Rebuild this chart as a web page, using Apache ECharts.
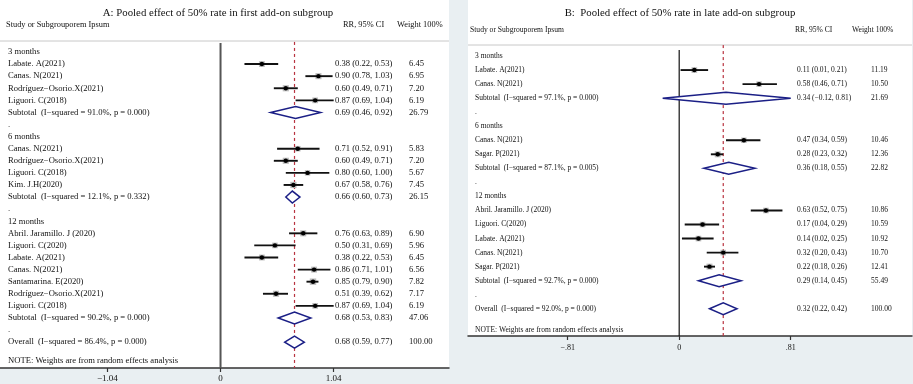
<!DOCTYPE html>
<html>
<head>
<meta charset="utf-8">
<script src="https://cdn.jsdelivr.net/npm/echarts@6/dist/echarts.min.js"></script>
<style>
  html, body { margin: 0; padding: 0; background: #e9eff2; }
  #chart { width: 913px; height: 384px; }
</style>
</head>
<body>
<div id="chart"></div>
<script>
const groups = ['3 months', '6 months', '12 months'];

// A: first add-on subgroup
const aGroup = [0, 0, 0, 0, 1, 1, 1, 1, 2, 2, 2, 2, 2, 2, 2];
const aStudy = [
  'Labate. A(2021)', 'Canas. N(2021)', 'Rodríguez−Osorio.X(2021)', 'Liguori. C(2018)',
  'Canas. N(2021)', 'Rodríguez−Osorio.X(2021)', 'Liguori. C(2018)', 'Kim. J.H(2020)',
  'Abril. Jaramillo. J (2020)', 'Liguori. C(2020)', 'Labate. A(2021)', 'Canas. N(2021)',
  'Santamarina. E(2020)', 'Rodríguez−Osorio.X(2021)', 'Liguori. C(2018)'
];
const aRR = [0.38, 0.90, 0.60, 0.87, 0.71, 0.60, 0.80, 0.67, 0.76, 0.50, 0.38, 0.86, 0.85, 0.51, 0.87];
const aLow = [0.22, 0.78, 0.49, 0.69, 0.52, 0.49, 0.60, 0.58, 0.63, 0.31, 0.22, 0.71, 0.79, 0.39, 0.69];
const aHigh = [0.53, 1.03, 0.71, 1.04, 0.91, 0.71, 1.00, 0.76, 0.89, 0.69, 0.53, 1.01, 0.90, 0.62, 1.04];
const aWeight = [6.45, 6.95, 7.20, 6.19, 5.83, 7.20, 5.67, 7.45, 6.90, 5.96, 6.45, 6.56, 7.82, 7.17, 6.19];
const aSubRR = [0.69, 0.66, 0.68];
const aSubLow = [0.46, 0.60, 0.53];
const aSubHigh = [0.92, 0.73, 0.83];
const aSubWeight = [26.79, 26.15, 47.06];
const aSubI2 = ['91.0', '12.1', '90.2'];
const aSubP = ['0.000', '0.332', '0.000'];
const aOverall = [0.68, 0.59, 0.77]; // rr, low, high
const aOverallI2 = ['86.4', '0.000'];
const aTicks = [-1.04, 0, 1.04];
const aTickLabels = ['−1.04', '0', '1.04'];

// B: late add-on subgroup
const bGroup = [0, 0, 1, 1, 2, 2, 2, 2, 2];
const bStudy = [
  'Labate. A(2021)', 'Canas. N(2021)',
  'Canas. N(2021)', 'Sagar. P(2021)',
  'Abril. Jaramillo. J (2020)', 'Liguori. C(2020)', 'Labate. A(2021)', 'Canas. N(2021)', 'Sagar. P(2021)'
];
const bRR = [0.11, 0.58, 0.47, 0.28, 0.63, 0.17, 0.14, 0.32, 0.22];
const bLow = [0.01, 0.46, 0.34, 0.23, 0.52, 0.04, 0.02, 0.20, 0.18];
const bHigh = [0.21, 0.71, 0.59, 0.32, 0.75, 0.29, 0.25, 0.43, 0.26];
const bWeight = [11.19, 10.50, 10.46, 12.36, 10.86, 10.59, 10.92, 10.70, 12.41];
const bSubRR = [0.34, 0.36, 0.29];
const bSubLow = [-0.12, 0.18, 0.14];
const bSubHigh = [0.81, 0.55, 0.45];
const bSubWeight = [21.69, 22.82, 55.49];
const bSubI2 = ['97.1', '87.1', '92.7'];
const bSubP = ['0.000', '0.005', '0.000'];
const bOverall = [0.32, 0.22, 0.42];
const bOverallI2 = ['92.0', '0.000'];
const bTicks = [-0.81, 0, 0.81];
const bTickLabels = ['−.81', '0', '.81'];

const FONT = '"Liberation Serif", "Times New Roman", serif';

const num = v => (v < 0 ? '−' + Math.abs(v).toFixed(2) : v.toFixed(2));
const ciText = (r, l, h) => num(r) + ' (' + num(l) + ', ' + num(h) + ')';

function buildPanel(p) {
  const studies = [];
  const diamonds = [];
  const texts = [];
  let row = 0;
  groups.forEach((g, gi) => {
    texts.push({ row, label: g });
    row++;
    p.group.forEach((sg, i) => {
      if (sg !== gi) return;
      studies.push([p.low[i], p.high[i], p.rr[i], row, p.weight[i]]);
      texts.push({ row, label: p.study[i], ci: ciText(p.rr[i], p.low[i], p.high[i]), w: p.weight[i].toFixed(2) });
      row++;
    });
    diamonds.push([p.subLow[gi], p.subHigh[gi], p.subRR[gi], row]);
    texts.push({
      row,
      label: 'Subtotal  (I−squared = ' + p.subI2[gi] + '%, p = ' + p.subP[gi] + ')',
      ci: ciText(p.subRR[gi], p.subLow[gi], p.subHigh[gi]),
      w: p.subWeight[gi].toFixed(2)
    });
    row++;
    texts.push({ row, label: '.' });
    row++;
  });
  diamonds.push([p.overall[1], p.overall[2], p.overall[0], row]);
  texts.push({
    row,
    label: 'Overall  (I−squared = ' + p.overallI2[0] + '%, p = ' + p.overallI2[1] + ')',
    ci: ciText(p.overall[0], p.overall[1], p.overall[2]),
    w: '100.00'
  });
  texts.push({ row: row + 1.5, label: 'NOTE: Weights are from random effects analysis' });
  return { studies, diamonds, texts };
}

const panelA = buildPanel({
  group: aGroup, study: aStudy, rr: aRR, low: aLow, high: aHigh, weight: aWeight,
  subRR: aSubRR, subLow: aSubLow, subHigh: aSubHigh, subWeight: aSubWeight, subI2: aSubI2, subP: aSubP,
  overall: aOverall, overallI2: aOverallI2
});
const panelB = buildPanel({
  group: bGroup, study: bStudy, rr: bRR, low: bLow, high: bHigh, weight: bWeight,
  subRR: bSubRR, subLow: bSubLow, subHigh: bSubHigh, subWeight: bSubWeight, subI2: bSubI2, subP: bSubP,
  overall: bOverall, overallI2: bOverallI2
});

// per panel look
const look = [
  { font: 8.6, labelX: 8, ciX: 335, wX: 409, box: 2.3, zeroTop: -0.74, refTop: -0.83, zeroColor: '#555', zeroWidth: 2 },
  { font: 7.5, labelX: 7, ciX: 329, wX: 403, box: 1.7, zeroTop: -0.43, refTop: -0.78, zeroColor: '#111', zeroWidth: 1.2 }
];

function studySeries(idx, data) {
  const k = look[idx];
  return {
    type: 'custom', xAxisIndex: idx, yAxisIndex: idx, data, silent: true, z: 5,
    renderItem(params, api) {
      const row = api.value(3);
      const lo = api.coord([api.value(0), row]);
      const hi = api.coord([api.value(1), row]);
      const c = api.coord([api.value(2), row]);
      const s = k.box * Math.sqrt(api.value(4));
      return {
        type: 'group',
        children: [
          { type: 'rect', shape: { x: c[0] - s / 2, y: c[1] - s / 2, width: s, height: s }, style: { fill: '#bdbdbd' } },
          { type: 'line', shape: { x1: lo[0], y1: lo[1], x2: hi[0], y2: hi[1] }, style: { stroke: '#111', lineWidth: 1.9 } },
          { type: 'circle', shape: { cx: c[0], cy: c[1], r: 2.2 }, style: { fill: '#000' } }
        ]
      };
    }
  };
}

function diamondSeries(idx, data) {
  return {
    type: 'custom', xAxisIndex: idx, yAxisIndex: idx, data, silent: true, z: 6,
    renderItem(params, api) {
      const row = api.value(3);
      const lo = api.coord([api.value(0), row]);
      const hi = api.coord([api.value(1), row]);
      const c = api.coord([api.value(2), row]);
      const h = 6;
      return {
        type: 'polygon',
        shape: { points: [[lo[0], c[1]], [c[0], c[1] - h], [hi[0], c[1]], [c[0], c[1] + h]] },
        style: { fill: '#fff', stroke: '#1b1f86', lineWidth: 1.5 }
      };
    }
  };
}

function textSeries(idx, texts) {
  const k = look[idx];
  return {
    type: 'custom', xAxisIndex: idx, yAxisIndex: idx, silent: true, z: 7,
    data: texts.map(t => [0, t.row]),
    renderItem(params, api) {
      const t = texts[params.dataIndex];
      const x0 = params.coordSys.x;
      const y = api.coord([0, api.value(1)])[1];
      const style = (text, x) => ({
        type: 'text',
        style: { text, x, y, fill: '#111', font: k.font + 'px ' + FONT, textAlign: 'left', textVerticalAlign: 'middle' }
      });
      const children = [style(t.label, x0 + k.labelX)];
      if (t.ci) children.push(style(t.ci, x0 + k.ciX));
      if (t.w) children.push(style(t.w, x0 + k.wX));
      return { type: 'group', children };
    }
  };
}

function refSeries(idx, pooled) {
  const k = look[idx];
  return {
    type: 'custom', xAxisIndex: idx, yAxisIndex: idx, silent: true, z: 3,
    data: [[0, 0], [pooled, 1]],
    renderItem(params, api) {
      const isRef = api.value(1) === 1;
      const bottom = params.coordSys.y + params.coordSys.height;
      const top = api.coord([api.value(0), isRef ? k.refTop : k.zeroTop]);
      return {
        type: 'line',
        shape: { x1: top[0], y1: top[1], x2: top[0], y2: bottom },
        style: isRef
          ? { stroke: '#b8323f', lineWidth: 1.2, lineDash: [3, 3] }
          : { stroke: k.zeroColor, lineWidth: k.zeroWidth }
      };
    }
  };
}

function xAxis(idx, min, max, ticks, labels, fontSize, margin) {
  return {
    gridIndex: idx, type: 'value', min, max,
    axisLine: { show: true, onZero: false, lineStyle: { color: '#333', width: 1.5 } },
    axisTick: { show: true, customValues: ticks, length: 4, lineStyle: { color: '#333', width: 1.2 } },
    axisLabel: {
      customValues: ticks, margin, color: '#111', fontFamily: FONT, fontSize,
      formatter: v => labels[ticks.indexOf(v)] ?? ''
    },
    splitLine: { show: false }
  };
}

function yAxis(idx, min, max) {
  return { gridIndex: idx, type: 'value', inverse: true, min, max, show: false };
}

const chart = echarts.init(document.getElementById('chart'));

const headerText = (text, x, y, size, align) => ({
  type: 'text', x, y,
  style: { text, fill: '#111', font: size + 'px ' + FONT, textAlign: align || 'left', textVerticalAlign: 'middle' }
});

chart.setOption({
  backgroundColor: '#e9eff2',
  animation: false,
  grid: [
    { left: 0, top: 0, width: 449, height: 368, show: true, backgroundColor: '#fff', borderWidth: 0 },
    { left: 468, top: 0, width: 444, height: 336, show: true, backgroundColor: '#fff', borderWidth: 0 }
  ],
  xAxis: [
    xAxis(0, -2.027, 2.100, aTicks, aTickLabels, 9, 6),
    xAxis(1, -1.534, 1.691, bTicks, bTickLabels, 8, 8)
  ],
  yAxis: [
    yAxis(0, -4.30, 26.14),
    yAxis(1, -3.99, 19.94)
  ],
  graphic: [
    headerText('A: Pooled effect of 50% rate in first add-on subgroup', 218, 13, 10.8, 'center'),
    headerText('Study or Subgrouporem Ipsum', 6, 25, 8.4),
    headerText('RR, 95% CI', 343, 25, 8.4),
    headerText('Weight 100%', 397, 25, 8.4),
    { type: 'line', shape: { x1: 0, y1: 41, x2: 449, y2: 41 }, style: { stroke: '#c8c8c8', lineWidth: 1 } },
    headerText('B:  Pooled effect of 50% rate in late add-on subgroup', 680, 13, 10.8, 'center'),
    headerText('Study or Subgrouporem Ipsum', 470, 30, 7.6),
    headerText('RR, 95% CI', 795, 30, 7.6),
    headerText('Weight 100%', 852, 30, 7.6),
    { type: 'line', shape: { x1: 468, y1: 45, x2: 912, y2: 45 }, style: { stroke: '#c8c8c8', lineWidth: 1 } }
  ],
  series: [
    refSeries(0, aOverall[0]),
    studySeries(0, panelA.studies),
    diamondSeries(0, panelA.diamonds),
    textSeries(0, panelA.texts),
    refSeries(1, bOverall[0]),
    studySeries(1, panelB.studies),
    diamondSeries(1, panelB.diamonds),
    textSeries(1, panelB.texts)
  ]
});

window.addEventListener('resize', () => chart.resize());
</script>
</body>
</html>
